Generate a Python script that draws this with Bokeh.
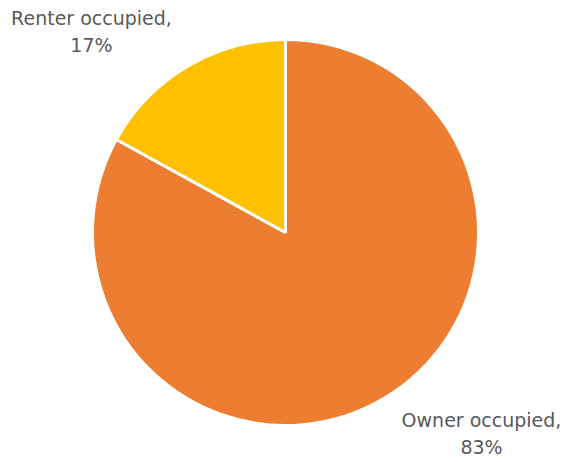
import math
from bokeh.plotting import figure
from bokeh.models import ColumnDataSource, Range1d
from bokeh.core.properties import value
from bokeh.embed import file_html
from bokeh.resources import INLINE

categories = ["Owner occupied", "Renter occupied"]
shares = [83, 17]
colors = ["#ED7D31", "#FFC000"]

W, H = 563, 462
cx, cy = 285, H - 232
radius = 193

starts, ends = [], []
acc = 0.0
for s in shares:
    a0 = math.pi / 2 - acc / 100 * 2 * math.pi
    acc += s
    a1 = math.pi / 2 - acc / 100 * 2 * math.pi
    starts.append(a0)
    ends.append(a1)

src = ColumnDataSource(dict(x=[cx] * len(shares), y=[cy] * len(shares),
                            start=starts, end=ends, color=colors))

p = figure(width=W, height=H, output_backend="svg", toolbar_location=None,
           x_range=Range1d(0, W), y_range=Range1d(0, H), min_border=0)
p.axis.visible = False
p.grid.visible = False
p.outline_line_color = None

p.wedge(x="x", y="y", radius=radius, radius_units="screen",
        start_angle="start", end_angle="end", direction="clock",
        fill_color="color", line_color="white", line_width=3, source=src)

labels = [f"{c},\n{s}%" for c, s in zip(categories, shares)]
lx = [481, 91]
ly = [H - 433, H - 31]
p.text(x=lx, y=ly, text=labels, text_align="center", text_baseline="middle",
       text_font=value("DejaVu Sans"), text_font_size="19px",
       text_color="#595959", text_line_height=1.2)

open("out.html", "w").write(file_html(p, INLINE))
